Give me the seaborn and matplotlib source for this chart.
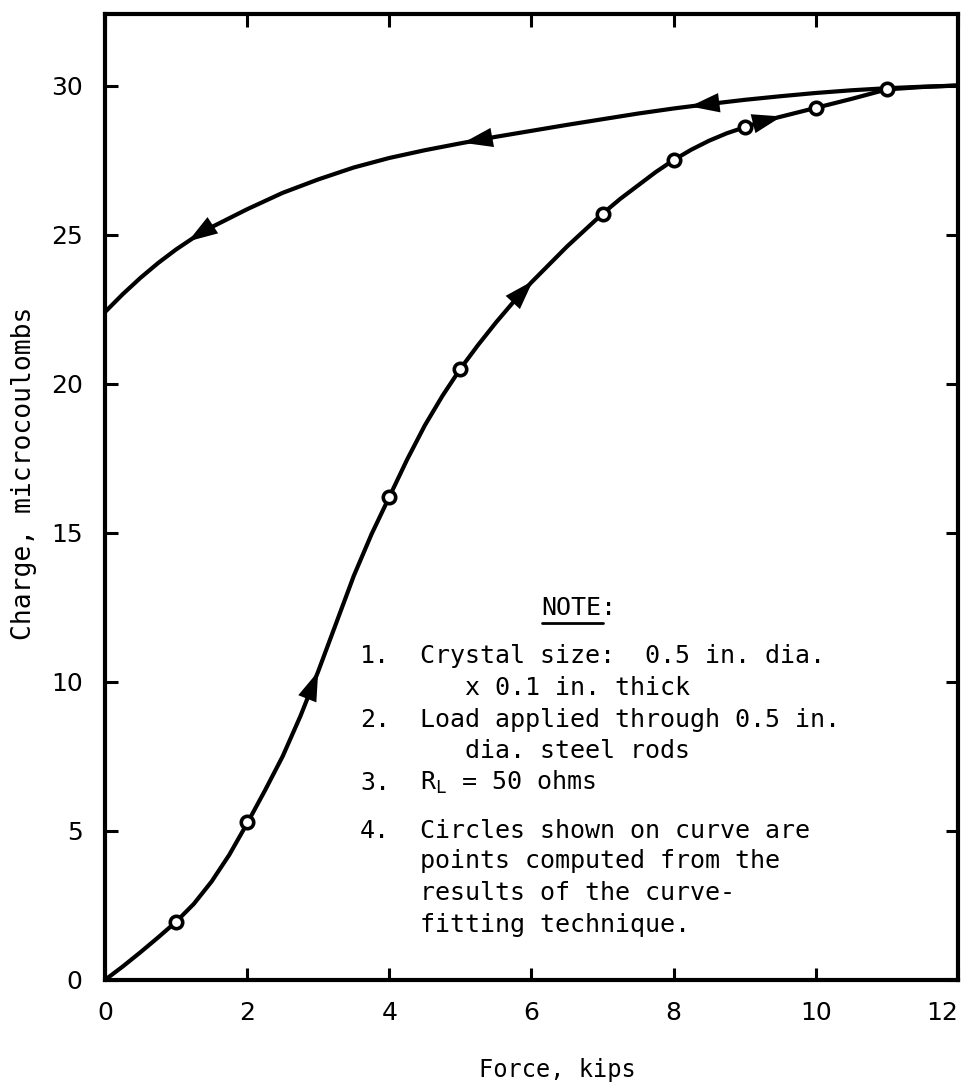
import numpy as np
import matplotlib
matplotlib.use("Agg")
import matplotlib.pyplot as plt
import seaborn as sns

#  Data 
# loading branch (force going up)
load_force  = [0, 0.25, 0.5, 0.75, 1, 1.25, 1.5, 1.75, 2, 2.25, 2.5, 2.75, 3, 3.25,
               3.5, 3.75, 4, 4.25, 4.5, 4.75, 5, 5.25, 5.5, 5.75, 6, 6.25, 6.5, 6.75,
               7, 7.25, 7.5, 7.75, 8, 8.25, 8.5, 8.75, 9, 9.25, 9.5, 9.75, 10,
               10.5, 11, 11.5, 12]
load_charge = [0, 0.45, 0.93, 1.43, 1.95, 2.55, 3.3, 4.2, 5.25, 6.35, 7.5, 8.85, 10.35, 11.95,
               13.55, 14.95, 16.2, 17.45, 18.6, 19.6, 20.5, 21.3, 22.05, 22.75, 23.4, 24.0, 24.6, 25.15,
               25.7, 26.2, 26.65, 27.1, 27.5, 27.85, 28.15, 28.4, 28.6, 28.8, 28.95, 29.1, 29.25,
               29.55, 29.87, 29.95, 30.0]

# unloading branch (force coming back down)
unload_force  = [12, 11.5, 11, 10.5, 10, 9.5, 9, 8.5, 8, 7.5, 7, 6.5, 6, 5.5, 5, 4.5, 4,
                 3.5, 3, 2.5, 2, 1.75, 1.5, 1.25, 1, 0.75, 0.5, 0.25, 0]
unload_charge = [30.0, 29.96, 29.91, 29.84, 29.75, 29.64, 29.52, 29.38, 29.23, 29.06, 28.87,
                 28.68, 28.48, 28.28, 28.06, 27.83, 27.57, 27.25, 26.85, 26.4, 25.85,
                 25.55, 25.25, 24.9, 24.5, 24.05, 23.55, 23.0, 22.4]

# circles = points computed from the curve fit
fit_force  = [1, 2, 4, 5, 7, 8, 9, 10, 11]
fit_charge = [1.95, 5.3, 16.2, 20.5, 25.7, 27.5, 28.6, 29.25, 29.87]

# arrow tips on each branch
load_arrow_force   = [3.0, 6.02, 9.52]
unload_arrow_force = [8.23, 5.04, 1.17]

x_ticks = [0, 2, 4, 6, 8, 10, 12]
y_ticks = [0, 5, 10, 15, 20, 25, 30]

#  Setup 
sns.set_style("ticks")
plt.rcParams["font.family"] = ["DejaVu Sans Mono", "DejaVu Sans"]
plt.rcParams["mathtext.fontset"] = "custom"
plt.rcParams["mathtext.rm"] = "DejaVu Sans Mono"
plt.rcParams["text.color"] = "black"
plt.rcParams["axes.labelcolor"] = "black"

fig = plt.figure(figsize=(9.7, 10.91), dpi=100)
ax = fig.add_axes([0.1082, 0.1018, 0.8794, 0.8854])

ink = "black"

sns.lineplot(x=load_force, y=load_charge, sort=False, estimator=None,
             color=ink, lw=3, ax=ax)
sns.lineplot(x=unload_force, y=unload_charge, sort=False, estimator=None,
             color=ink, lw=3, ax=ax)
sns.scatterplot(x=fit_force, y=fit_charge, marker="o", s=80,
                facecolor="white", edgecolor=ink, linewidth=2.6, zorder=4, ax=ax)


def add_arrows(xs, curve_x, curve_y, step):
    # curve_x must be increasing for np.interp
    order = np.argsort(curve_x)
    cx = np.asarray(curve_x)[order]
    cy = np.asarray(curve_y)[order]
    for x in xs:
        tip = (x, np.interp(x, cx, cy))
        tail = (x - step, np.interp(x - step, cx, cy))
        ax.annotate("", xy=tip, xytext=tail,
                    arrowprops=dict(arrowstyle="-|>,head_length=0.85,head_width=0.28",
                                    mutation_scale=25, color=ink, lw=0,
                                    shrinkA=0, shrinkB=0),
                    zorder=5)


add_arrows(load_arrow_force, load_force, load_charge, 0.1)
add_arrows(unload_arrow_force, unload_force, unload_charge, -0.1)

#  Axes 
ax.set_xlim(0, 12)
ax.set_ylim(0, 32.4)
ax.set_xticks(x_ticks)
ax.set_yticks(y_ticks)
ax.set_xticklabels([str(t) for t in x_ticks], family="DejaVu Sans")
ax.set_yticklabels([str(t) for t in y_ticks], family="DejaVu Sans")
ax.get_xticklabels()[-1].set_horizontalalignment("right")
ax.tick_params(direction="in", length=9, width=2.2, top=True, right=True,
               labelsize=18, colors=ink)
ax.tick_params(axis="x", pad=15)
ax.tick_params(axis="y", pad=16)
for side in ax.spines.values():
    side.set_linewidth(3)
    side.set_color(ink)

ax.set_xlabel("Force, kips", fontsize=17)
ax.xaxis.set_label_coords(0.53, -0.081)
ax.set_ylabel("Charge, microcoulombs", fontsize=19)
ax.yaxis.set_label_coords(-0.08, 0.524)

#  Note block 
note_kw = dict(transform=ax.transAxes, fontsize=18, va="baseline", ha="left", color=ink)
ax.text(0.512, 0.378, "NOTE:", **note_kw)
ax.plot([0.512, 0.584], [0.369, 0.369], transform=ax.transAxes, color=ink, lw=2)

num_x, txt_x, ind_x = 0.299, 0.369, 0.422
ax.text(num_x, 0.328, "1.", **note_kw)
ax.text(txt_x, 0.328, "Crystal size:  0.5 in. dia.", **note_kw)
ax.text(ind_x, 0.295, "x 0.1 in. thick", **note_kw)
ax.text(num_x, 0.262, "2.", **note_kw)
ax.text(txt_x, 0.262, "Load applied through 0.5 in.", **note_kw)
ax.text(ind_x, 0.230, "dia. steel rods", **note_kw)
ax.text(num_x, 0.197, "3.", **note_kw)
ax.text(txt_x, 0.197, r"$\mathregular{R_L}$ = 50 ohms", **note_kw)
ax.text(num_x, 0.147, "4.", **note_kw)
ax.text(txt_x, 0.147, "Circles shown on curve are", **note_kw)
ax.text(txt_x, 0.116, "points computed from the", **note_kw)
ax.text(txt_x, 0.083, "results of the curve-", **note_kw)
ax.text(txt_x, 0.050, "fitting technique.", **note_kw)

fig.savefig("out.png", dpi=100)
plt.close(fig)
print("Saved: out.png")
